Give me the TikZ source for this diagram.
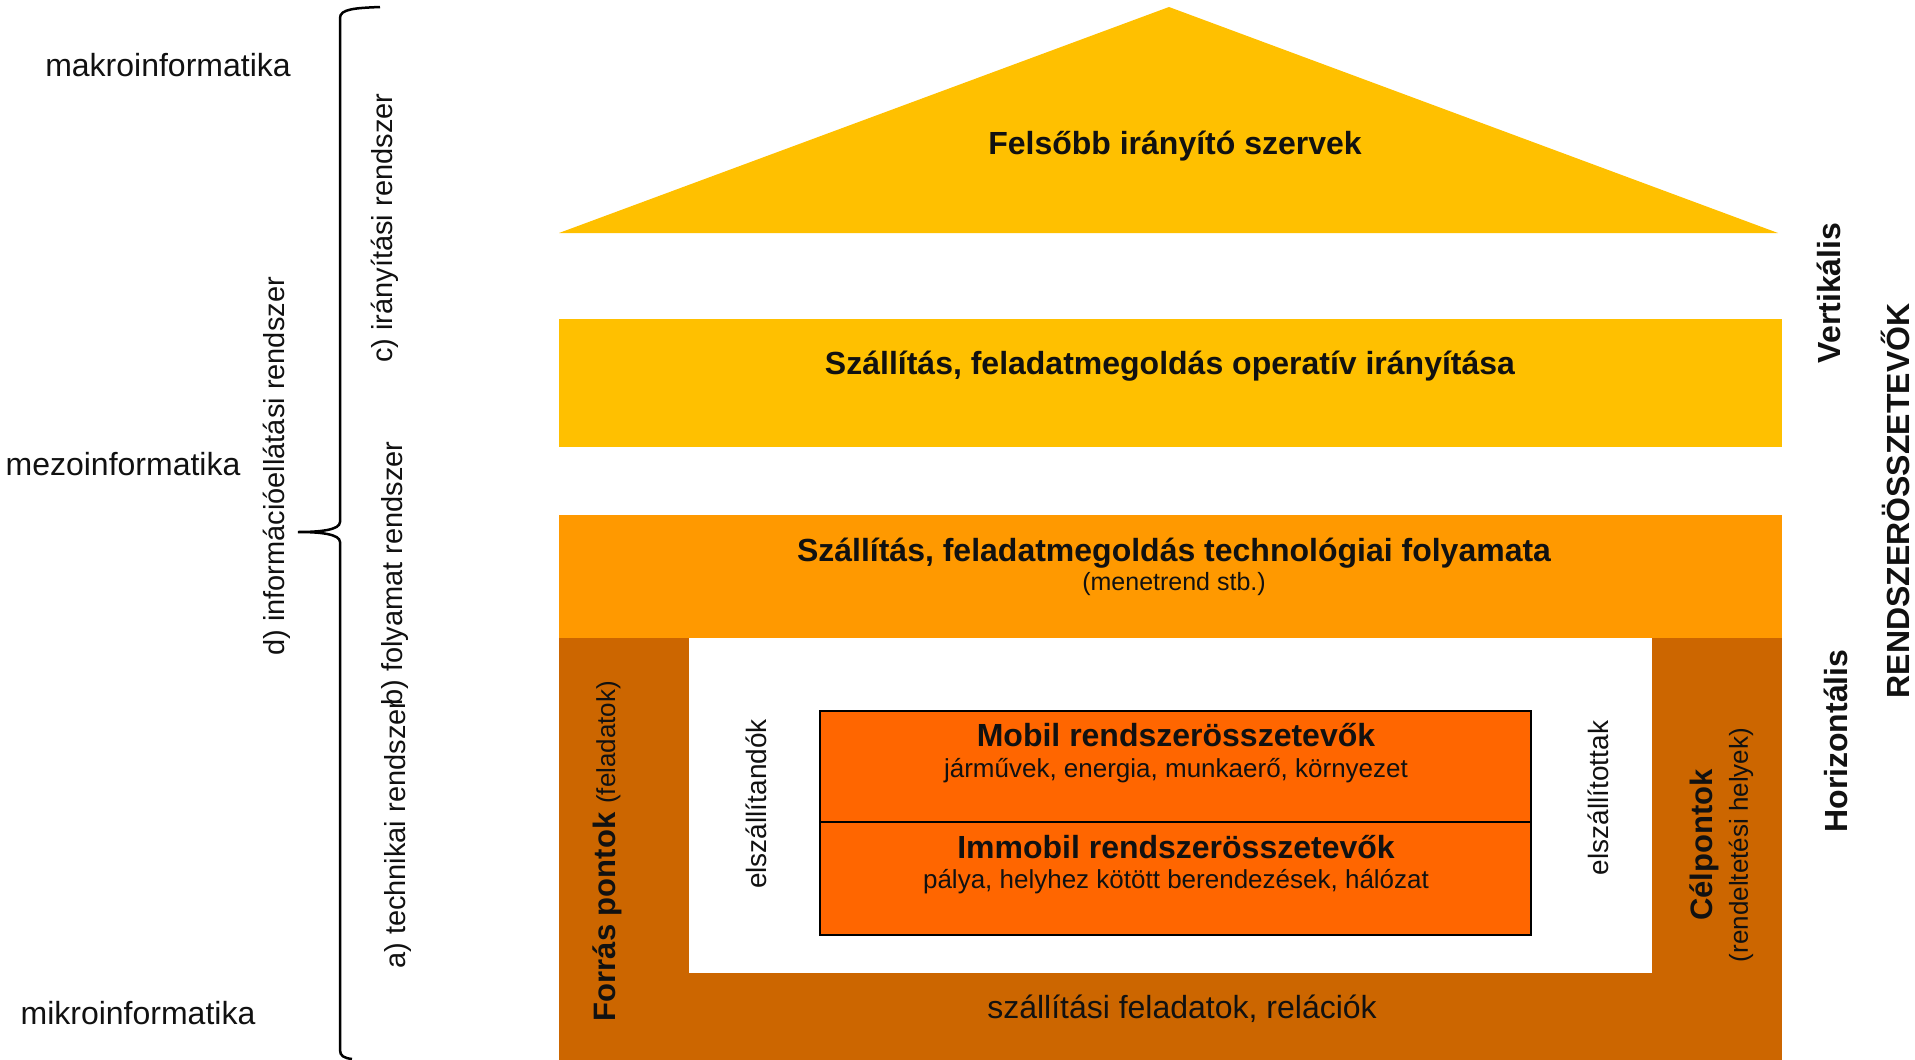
\documentclass[tikz,border=0pt]{standalone}
\usepackage{fontspec}
\setmainfont{Liberation Sans}
\definecolor{gold}{HTML}{FFC000}
\definecolor{orng}{HTML}{FF9900}
\definecolor{brwn}{HTML}{CC6600}
\definecolor{redor}{HTML}{FF6600}
\definecolor{txt}{HTML}{111111}
\newcommand\fsz[1]{\fontsize{#1}{#1}\selectfont}
\begin{document}
\begin{tikzpicture}[x=1pt,y=-1pt,
  every node/.style={inner sep=0pt, text=txt},
  big/.style={font=\fsz{32}\bfseries},
  reg/.style={font=\fsz{32}},
  small/.style={font=\fsz{26}},
  side/.style={font=\fsz{29}, rotate=90, anchor=base west},
  vert/.style={rotate=90}]
\useasboundingbox (0,0) rectangle (1915,1060);
% roof
\fill[gold] (559,233) -- (1169,7) -- (1778,233) -- cycle;
% bands
\fill[gold] (559,319) rectangle (1782,447);
\fill[orng] (559,515) rectangle (1782,638);
\fill[brwn] (559,638) rectangle (1782,1060);
\fill[white] (689,638) rectangle (1652,973);
% inner box
\filldraw[fill=redor, draw=black, line width=2.5pt] (820,711) rectangle (1531,935);
\draw[black, line width=2.5pt] (820,822) -- (1531,822);
% texts in house
\node[big] (roof) at (1175,146) {Felsőbb irányító szervek};
\node[big] (oper) at (1170,366) {Szállítás, feladatmegoldás operatív irányítása};
\node[big] (tech) at (1174,553) {Szállítás, feladatmegoldás technológiai folyamata};
\node[font=\fsz{25}] (menet) at (1174,584) {(menetrend stb.)};
\node[big] (mobil) at (1176,735) {Mobil rendszerösszetevők};
\node[small] (mobsub) at (1176,771) {járművek, energia, munkaerő, környezet};
\node[big] (immob) at (1176,847) {Immobil rendszerösszetevők};
\node[small] (immsub) at (1176,882) {pálya, helyhez kötött berendezések, hálózat};
\node[reg] (rel) at (1182,1009) {szállítási feladatok, relációk};
\node[font=\fsz{28}, vert] (elsz1) at (756,804) {elszállítandók};
\node[font=\fsz{28}, vert] (elsz2) at (1598,798) {elszállítottak};
\node[vert] (forras) at (607,851) {{\fsz{31}\bfseries Forrás pontok}\hspace{9pt}{\fsz{26}(feladatok)}};
\node[font=\fsz{31}\bfseries, vert] (cel) at (1704,845) {Célpontok};
\node[font=\fsz{26}, vert] (celsub) at (1741,845) {(rendeltetési helyek)};
% right labels
\node[big, vert] (vertik) at (1829,293) {Vertikális};
\node[big, vert] (horiz) at (1836,741) {Horizontális};
\node[big, vert] (rendsz) at (1895,501) {RENDSZERÖSSZETEVŐK};
% left labels
\node[reg, anchor=base] (makro) at (168,76) {makroinformatika};
\node[reg, anchor=base] (mezo) at (123,475) {mezoinformatika};
\node[reg, anchor=base] (mikro) at (138,1024) {mikroinformatika};
\node[side] (d) at (284,656) {d) információellátási rendszer};
\node[side] (c) at (392,363) {c) irányítási rendszer};
\node[side] (b) at (402,706) {b) folyamat rendszer};
\node[side] (a) at (405,969) {a) technikai rendszer};
% brace
\draw[line width=2.5pt] (380,7) .. controls (355,8) and (340,9) .. (340,18)
  -- (340,522) .. controls (340,530) and (320,532) .. (298,532)
  .. controls (320,532) and (340,534) .. (340,542)
  -- (340,1050) .. controls (340,1056) and (344,1058) .. (352,1059);
\end{tikzpicture}
\end{document}
